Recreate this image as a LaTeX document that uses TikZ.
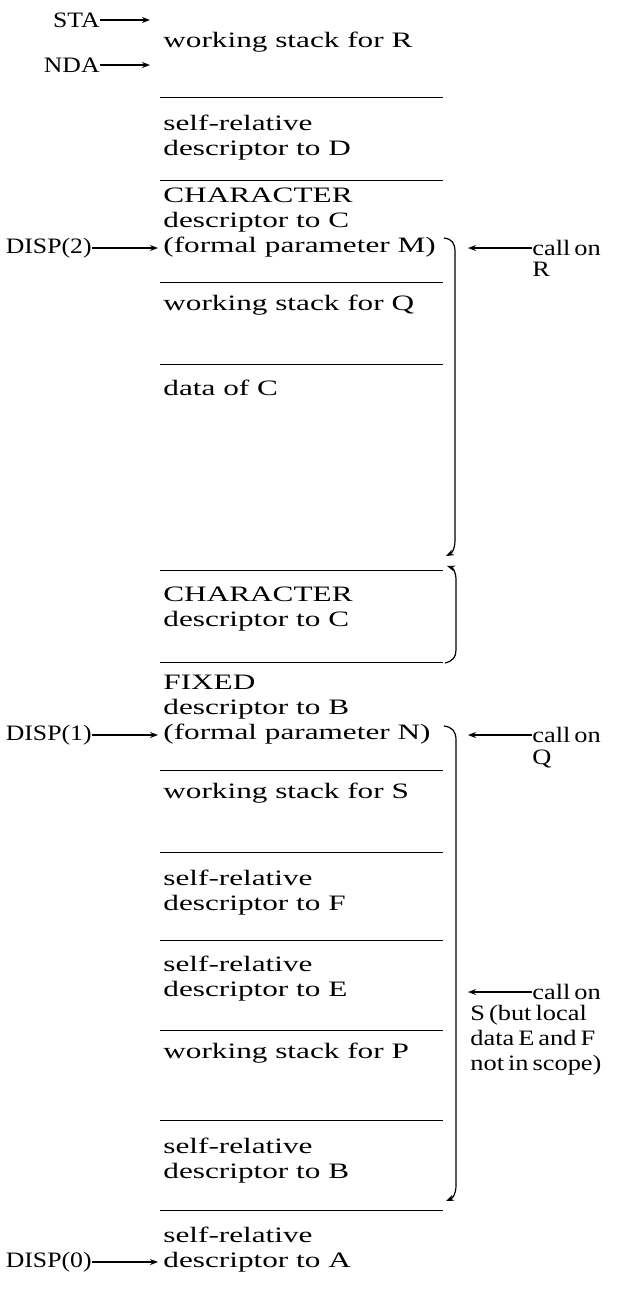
\documentclass[tikz,border=0pt]{standalone}
\usepackage{fontspec}
\setmainfont{Liberation Serif}[FakeStretch=1.42]
\newfontfamily\lblfont{Liberation Serif}[FakeStretch=1.17]
\newfontfamily\notefont{Liberation Serif}[FakeStretch=1.2, WordSpace=0.6]
\usetikzlibrary{arrows.meta, positioning}

\begin{document}
\begin{tikzpicture}[
    x=0.5pt, y=-0.5pt,
    cell/.style={anchor=north west, inner sep=0pt, align=left, font=\fontsize{11}{12.5}\selectfont},
    lbl/.style={anchor=east, inner sep=0pt, font=\lblfont\fontsize{11}{12.5}\selectfont},
    note/.style={anchor=west, inner sep=0pt, align=left, font=\notefont\fontsize{11}{12.5}\selectfont},
    arrow/.style={-{Stealth[length=4pt, width=3pt]}, semithick},
    sep/.style={line width=0.5pt},
    brace/.style={line width=0.6pt}
  ]
    \useasboundingbox (0,0) rectangle (626,1308);

    % stack cells
    \node[cell] (wsR) at (163,32) {working stack for R};
    \node[cell] (srD) at (163,115) {self-relative\\descriptor to D};
    \node[cell] (chrM) at (163,188) {CHARACTER\\descriptor to C\\(formal parameter M)};
    \node[cell] (wsQ) at (163,295) {working stack for Q};
    \node[cell] (datC) at (163,380) {data of C};
    \node[cell] (chrC) at (163,587) {CHARACTER\\descriptor to C};
    \node[cell] (fixN) at (163,675) {FIXED\\descriptor to B\\(formal parameter N)};
    \node[cell] (wsS) at (163,783) {working stack for S};
    \node[cell] (srF) at (163,870) {self-relative\\descriptor to F};
    \node[cell] (srE) at (163,956) {self-relative\\descriptor to E};
    \node[cell] (wsP) at (163,1043) {working stack for P};
    \node[cell] (srB) at (163,1138) {self-relative\\descriptor to B};
    \node[cell] (srA) at (163,1227) {self-relative\\descriptor to A};

    \foreach \y in {97,180,282,364,570,662,770,852,940,1030,1120,1210}
      \draw[sep] (160,\y) -- (443,\y);

    % pointers on the left
    \node[lbl] (sta) at (100,20) {STA};
    \node[lbl] (nda) at (100,65) {NDA};
    \node[lbl] (disp2) at (92,248) {DISP(2)};
    \node[lbl] (disp1) at (92,735) {DISP(1)};
    \node[lbl] (disp0) at (92,1262) {DISP(0)};
    \coordinate (staT) at (150,20);
    \coordinate (ndaT) at (150,65);
    \coordinate (disp2T) at (158,248);
    \coordinate (disp1T) at (158,735);
    \coordinate (disp0T) at (158,1262);
    \draw[arrow] (sta) -- (staT);
    \draw[arrow] (nda) -- (ndaT);
    \draw[arrow] (disp2) -- (disp2T);
    \draw[arrow] (disp1) -- (disp1T);
    \draw[arrow] (disp0) -- (disp0T);

    % calls on the right
    \node[note] (callR) at (532,248) {call on};
    \node[note, below=3pt of callR.south west, anchor=north west] (callRb) {R};
    \node[note] (callQ) at (532,735) {call on};
    \node[note, below=3pt of callQ.south west, anchor=north west] (callQb) {Q};
    \node[note] (callS) at (532,992) {call on};
    \node[note, anchor=north west] (callSb) at (470,1005) {S (but local\\data E and F\\not in scope)};
    \coordinate (callRT) at (468,248);
    \coordinate (callQT) at (468,735);
    \coordinate (callST) at (468,992);
    \draw[arrow] (callR) -- (callRT);
    \draw[arrow] (callQ) -- (callQT);
    \draw[arrow] (callS) -- (callST);

    % brackets
    \draw[brace, -{Stealth[length=4pt, width=3pt]}] (444,238) .. controls (452,239) and (455,243) .. (455,252)
      -- (455,540) .. controls (455,549) and (452,553) .. (446,556);
    \draw[brace, {Stealth[length=4pt, width=3pt]}-] (447,566) .. controls (453,568) and (456,572) .. (456,580)
      -- (456,650) .. controls (456,657) and (453,661) .. (445,663);
    \draw[brace, -{Stealth[length=4pt, width=3pt]}] (444,726) .. controls (452,727) and (456,731) .. (456,740)
      -- (456,1185) .. controls (456,1194) and (453,1198) .. (446,1201);
  \end{tikzpicture}
\end{document}
